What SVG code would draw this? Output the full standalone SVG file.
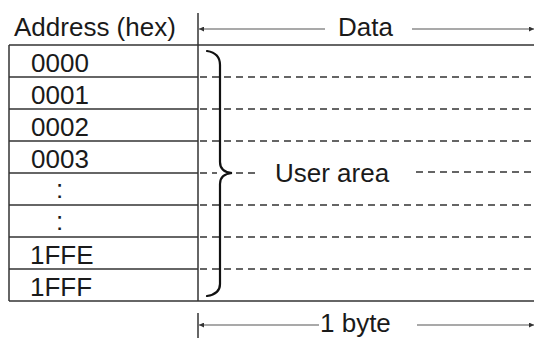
<svg xmlns="http://www.w3.org/2000/svg" width="534" height="338" viewBox="0 0 534 338">
<style>
text{font-family:"Liberation Sans",Arial,Helvetica,sans-serif;font-size:26px;fill:#1a1a1a}
.solid{stroke:#333;stroke-width:1.5;fill:none}
.dash{stroke:#333;stroke-width:1.3;stroke-dasharray:7 5;fill:none}
.dim{stroke:#555;stroke-width:1.1;fill:none}
.brace{stroke:#111;stroke-width:2.2;fill:none;stroke-linecap:round}
</style>
<defs>
<marker id="ah" viewBox="0 0 10 10" refX="10" refY="5" markerWidth="7" markerHeight="5" orient="auto" markerUnits="userSpaceOnUse">
<path d="M0,0 L10,5 L0,10 Z" fill="#333"/>
</marker>
</defs>
<g id="header">
<text x="14" y="36">Address (hex)</text>
</g>
<g id="table">
<line class="solid" x1="9" y1="45" x2="534" y2="45"/>
<line class="solid" x1="9" y1="301" x2="534" y2="301"/>
<line class="solid" x1="9" y1="45" x2="9" y2="301"/>
<line class="solid" x1="198" y1="13" x2="198" y2="301"/>
<line class="solid" x1="9" y1="77" x2="198" y2="77"/>
<line class="solid" x1="9" y1="109" x2="198" y2="109"/>
<line class="solid" x1="9" y1="141" x2="198" y2="141"/>
<line class="solid" x1="9" y1="173" x2="198" y2="173"/>
<line class="solid" x1="9" y1="205" x2="198" y2="205"/>
<line class="solid" x1="9" y1="237" x2="198" y2="237"/>
<line class="solid" x1="9" y1="269" x2="198" y2="269"/>
</g>
<g id="row-0000"><text x="31" y="72">0000</text></g>
<g id="row-0001"><text x="31" y="104">0001</text></g>
<g id="row-0002"><text x="31" y="136">0002</text></g>
<g id="row-0003"><text x="31" y="168">0003</text></g>
<g id="row-dots1"><text x="56" y="198">:</text></g>
<g id="row-dots2"><text x="56" y="230">:</text></g>
<g id="row-1FFE"><text x="30" y="264">1FFE</text></g>
<g id="row-1FFF"><text x="30" y="296">1FFF</text></g>
<g id="data-lines">
<line class="dash" x1="200" y1="77" x2="534" y2="77"/>
<line class="dash" x1="200" y1="109" x2="534" y2="109"/>
<line class="dash" x1="200" y1="141" x2="534" y2="141"/>
<line class="dash" x1="200" y1="173" x2="217" y2="173"/>
<line class="dash" x1="236" y1="173" x2="258" y2="173"/>
<line class="dash" x1="416" y1="172" x2="534" y2="172"/>
<line class="dash" x1="200" y1="205" x2="534" y2="205"/>
<line class="dash" x1="200" y1="237" x2="534" y2="237"/>
<line class="dash" x1="200" y1="269" x2="534" y2="269"/>
</g>
<g id="user-area">
<path class="brace" d="M207,51 Q220,53 220,65 L220,162 Q220,172 232,173 Q220,174 220,184 L220,284 Q220,294 207,296"/>
<text x="275" y="182">User area</text>
</g>
<g id="data-dim">
<text x="338" y="36">Data</text>
</g>
<g id="byte-dim">
<line class="solid" x1="198" y1="313" x2="198" y2="338"/>
<text x="320" y="332">1 byte</text>
</g>
<g id="connectors">
<line class="dim" x1="325" y1="29" x2="199" y2="29" marker-end="url(#ah)"/>
<line class="dim" x1="412" y1="29" x2="534" y2="29" marker-end="url(#ah)"/>
<line class="dim" x1="319" y1="325" x2="199" y2="325" marker-end="url(#ah)"/>
<line class="dim" x1="417" y1="325" x2="534" y2="325" marker-end="url(#ah)"/>
</g>
</svg>
